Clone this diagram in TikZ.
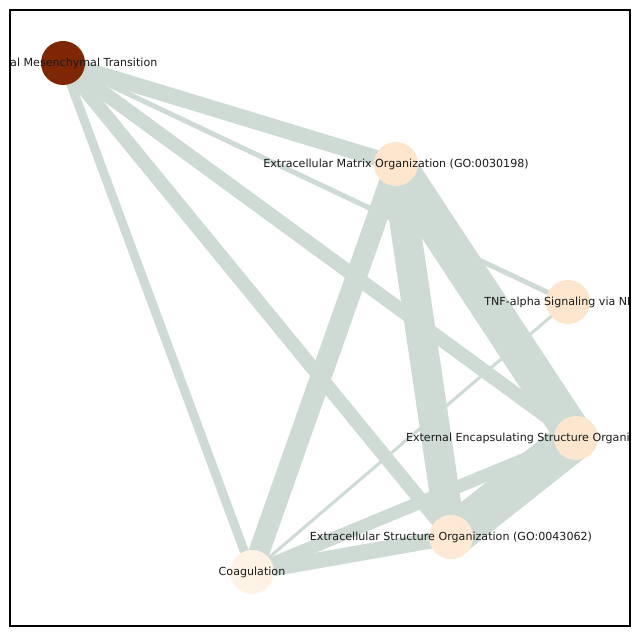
\documentclass[tikz,border=0pt]{standalone}
\usepackage{fontspec}
\setmainfont{DejaVu Sans}
\definecolor{edgec}{RGB}{205,219,212}
\definecolor{emtc}{RGB}{127,39,4}
\definecolor{pa}{RGB}{254,230,206}
\definecolor{pb}{RGB}{254,233,212}
\definecolor{pc}{RGB}{255,243,230}
\begin{document}
\begin{tikzpicture}[x=1pt,y=-1pt,
  edge/.style={draw=edgec,line cap=butt},
  dot/.style={circle,inner sep=0pt,minimum size=44pt,draw=none},
  lbl/.style={inner sep=0pt,font=\fontsize{11.1}{13}\selectfont,text=black!90}]
\useasboundingbox (0,0) rectangle (640,636);
\coordinate (pEMT) at (63,63);
\coordinate (pECM) at (396,164);
\coordinate (pTNF) at (568,302);
\coordinate (pEXT) at (576,438);
\coordinate (pESO) at (451,537);
\coordinate (pCOA) at (252,572);
\begin{scope}
\clip (10,10) rectangle (630,626);
\draw[edge,line width=16] (pEMT) -- (pECM);
\draw[edge,line width=5] (pEMT) -- (pTNF);
\draw[edge,line width=14] (pEMT) -- (pEXT);
\draw[edge,line width=14] (pEMT) -- (pESO);
\draw[edge,line width=9] (pEMT) -- (pCOA);
\draw[edge,line width=38] (pECM) -- (pEXT);
\draw[edge,line width=30] (pECM) -- (pESO);
\draw[edge,line width=21] (pECM) -- (pCOA);
\draw[edge,line width=3] (pTNF) -- (pCOA);
\draw[edge,line width=42] (pEXT) -- (pESO);
\draw[edge,line width=13] (pEXT) -- (pCOA);
\draw[edge,line width=16] (pESO) -- (pCOA);
\node[dot,fill=emtc] (EMT) at (pEMT) {};
\node[dot,fill=pa] (ECM) at (pECM) {};
\node[dot,fill=pa] (TNF) at (pTNF) {};
\node[dot,fill=pa] (EXT) at (pEXT) {};
\node[dot,fill=pb] (ESO) at (pESO) {};
\node[dot,fill=pc] (COA) at (pCOA) {};
\node[lbl] (lEMT) at (EMT.center) {Epithelial Mesenchymal Transition};
\node[lbl] (lECM) at (ECM.center) {Extracellular Matrix Organization (GO:0030198)};
\node[lbl] (lTNF) at (TNF.center) {TNF-alpha Signaling via NF-kB};
\node[lbl] (lEXT) at (EXT.center) {External Encapsulating Structure Organization (GO:0045229)};
\node[lbl] (lESO) at (ESO.center) {Extracellular Structure Organization (GO:0043062)};
\node[lbl] (lCOA) at (COA.center) {Coagulation};
\end{scope}
\draw[black,line width=1.1] (10,10) rectangle (630,626);
\end{tikzpicture}
\end{document}
